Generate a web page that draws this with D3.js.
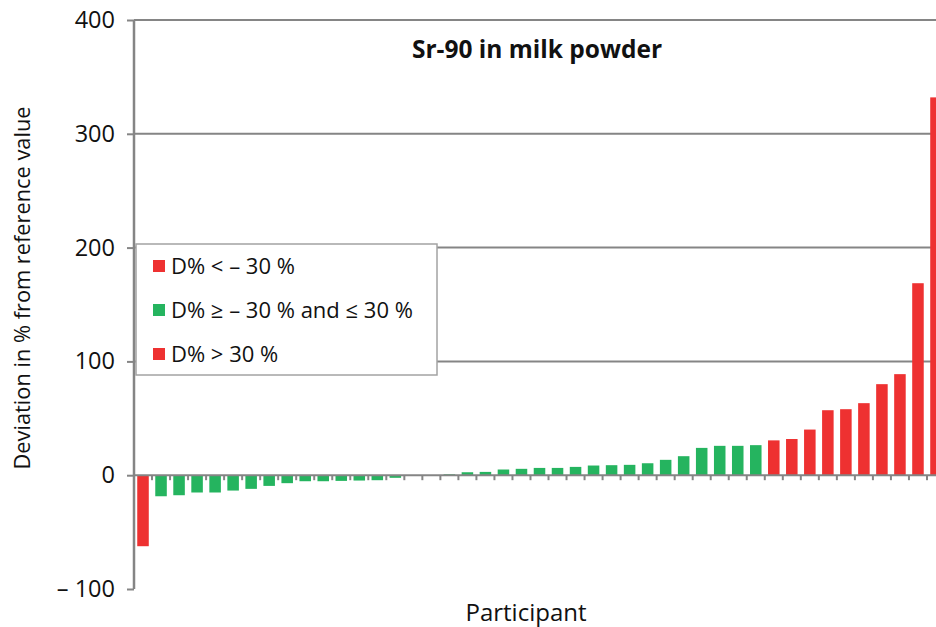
<!DOCTYPE html>
<html>
<head>
<meta charset="utf-8">
<script src="https://cdn.jsdelivr.net/npm/d3@7"></script>
<style>
  html, body { margin: 0; padding: 0; background: #fff; }
  svg { display: block; }
  text { font-family: "Open Sans", sans-serif; fill: #111; }
</style>
</head>
<body>
<svg id="chart" width="936" height="627"></svg>
<script>
// ---- data ----
const participants = d3.range(1, 46).map(String);
const deviations = [
  -62.4, -18.5, -17.6, -15.2, -15.2, -13.5, -12.0, -9.4, -7.0, -5.3,
  -5.3, -5.0, -4.7, -4.4, -2.3, 0, 0, 0.8, 2.6, 2.9,
  5.0, 5.6, 6.4, 6.4, 7.3, 8.5, 8.8, 9.1, 10.5, 13.5,
  16.7, 24.0, 25.8, 25.8, 26.4, 30.6, 31.8, 40.1, 57.1, 58.0,
  63.3, 80.0, 88.8, 168.7, 332.0
];
const yTicks = [-100, 0, 100, 200, 300, 400];
const yTickLabels = ["\u2013 100", "0", "100", "200", "300", "400"];
const legendLabels = ["D% < \u2013 30 %", "D% \u2265 \u2013 30 % and \u2264 30 %", "D% > 30 %"];
const legendColors = ["#ee3131", "#25b45f", "#ee3131"];
const titleText = "Sr-90 in milk powder";
const xTitle = "Participant";
const yTitle = "Deviation in % from reference value";

const RED = "#ee3131", GREEN = "#25b45f", GRID = "#858585";

const svg = d3.select("#chart");
const x = d3.scaleBand().domain(participants).range([134, 945]).paddingInner(0.36).paddingOuter(0.18);
const y = d3.scaleLinear().domain([-100, 400]).range([589, 20]);

// gridlines
svg.append("g").selectAll("line").data(yTicks.filter(t => t > 0)).join("line")
  .attr("x1", 134).attr("x2", 936)
  .attr("y1", d => y(d)).attr("y2", d => y(d))
  .attr("stroke", GRID).attr("stroke-width", 2);

// bars
svg.append("g").selectAll("rect").data(deviations).join("rect")
  .attr("x", (d, i) => x(participants[i]))
  .attr("width", x.bandwidth())
  .attr("y", d => y(Math.max(0, d)))
  .attr("height", d => Math.abs(y(d) - y(0)))
  .attr("fill", d => (d < -30 || d > 30) ? RED : GREEN);

// x axis (zero line) with ticks at category boundaries
const step = x.step();
const x0 = x.range()[0];
svg.append("line").attr("x1", 134).attr("x2", 936)
  .attr("y1", y(0)).attr("y2", y(0)).attr("stroke", GRID).attr("stroke-width", 2);
svg.append("g").selectAll("line").data(d3.range(1, participants.length)).join("line")
  .attr("x1", i => x0 + i * step).attr("x2", i => x0 + i * step)
  .attr("y1", y(0)).attr("y2", y(0) + 5)
  .attr("stroke", GRID).attr("stroke-width", 2);

// y axis
const yAxis = d3.axisLeft(y).tickValues(yTicks)
  .tickFormat((d, i) => yTickLabels[i]).tickSize(7).tickPadding(12);
const ya = svg.append("g").attr("transform", "translate(134,0)").call(yAxis);
ya.select(".domain").attr("stroke", GRID).attr("stroke-width", 2.5).attr("d", "M0," + y(400) + "V" + y(-100));
ya.selectAll(".tick line").attr("stroke", GRID).attr("stroke-width", 2);
ya.selectAll(".tick text").attr("font-family", "Open Sans, sans-serif").attr("font-size", 23.5).attr("fill", "#111");

// title
svg.append("text").attr("x", 537).attr("y", 58).attr("text-anchor", "middle")
  .attr("font-size", 24.5).attr("font-weight", "bold").text(titleText);

// axis titles
svg.append("text").attr("x", 526).attr("y", 621).attr("text-anchor", "middle")
  .attr("font-size", 24).text(xTitle);
svg.append("text").attr("transform", "translate(30,288) rotate(-90)").attr("text-anchor", "middle")
  .attr("font-size", 21.8).text(yTitle);

// legend
const lg = svg.append("g");
lg.append("rect").attr("x", 136).attr("y", 244).attr("width", 301).attr("height", 131)
  .attr("fill", "#fff").attr("stroke", "#a3a3a3").attr("stroke-width", 1.5);
const rows = lg.selectAll("g.row").data(legendLabels).join("g").attr("class", "row")
  .attr("transform", (d, i) => `translate(153,${266 + i * 44})`);
rows.append("rect").attr("x", 0).attr("y", -6).attr("width", 12).attr("height", 12)
  .attr("fill", (d, i) => legendColors[i]);
rows.append("text").attr("x", 18).attr("y", 7.5).attr("font-size", 22).text(d => d);
</script>
</body>
</html>
